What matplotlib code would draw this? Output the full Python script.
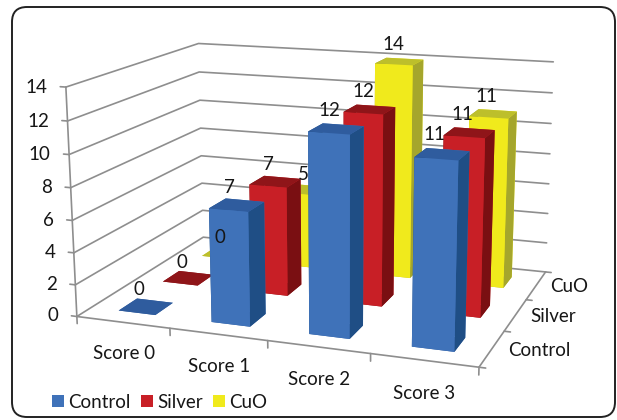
import numpy as np
import matplotlib
matplotlib.use('Agg')
import matplotlib.pyplot as plt
from matplotlib.patches import FancyBboxPatch, Patch
from mpl_toolkits.mplot3d import proj3d

plt.rcParams['font.family'] = ['Lato', 'DejaVu Sans']

categories = ['Score 0', 'Score 1', 'Score 2', 'Score 3']
series_names = ['Control', 'Silver', 'CuO']
control = [0, 7, 12, 11]
silver = [0, 7, 12, 11]
cuo = [0, 5, 14, 11]
z_ticks = [0, 2, 4, 6, 8, 10, 12, 14]

front = ['#3F72B9', '#C81F26', '#F0EA1C']
top = ['#2F5C9E', '#8F1519', '#BDBF2B']
side = ['#1F4E85', '#7A0F12', '#A5A62C']
GRID = '#8E8E8E'
TXT = '#161616'
FS = 13.5

W, H = 617, 420
fig = plt.figure(figsize=(W / 100, H / 100), dpi=100, facecolor='white')

# fitted camera (mplot3d perspective) and pixel scale
S, SX, SY = 2862.37, 321.66, -185.65
ax = fig.add_axes([0, 0, 1, 1], projection='3d')
vl = ax.viewLim
L = S * vl.width
ax.set_position([(SX + S * vl.x0) / W, (H + SY + S * vl.y0) / H, L / W, L / H])
ax.set_box_aspect((1.3654, 1, 0.7707))
ax.view_init(14.095, -69.893, 0.1972)
ax.set_proj_type('persp', focal_length=0.4959)
ax.set_autoscale_on(False)
ax.computed_zorder = False
ax.set_axis_off()
ax.patch.set_visible(False)

nx, ny, zmax = len(categories), len(series_names), z_ticks[-1]
ax.set_xlim(0, nx, view_margin=0)
ax.set_ylim(0, ny, view_margin=0)
ax.set_zlim(0, zmax, view_margin=0)
lkw = dict(color=GRID, lw=1.2, clip_on=False, solid_capstyle='round')


def label(x, y, z, s, **kw):
    """Place a text at a 3D data position through the axes' own projection."""
    u, v, _ = proj3d.proj_transform(x, y, z, ax.get_proj())
    ax.text2D(float(u), float(v), s, transform=ax.transData, fontsize=FS, color=TXT,
              va='center', clip_on=False, **kw)


# walls and floor
for z in z_ticks:
    ax.plot([0, 0, nx], [0, ny, ny], [z, z, z], zorder=1, **lkw)
ax.plot([0, 0], [0, 0], [0, zmax], zorder=1, **lkw)
ax.plot([0, nx, nx], [0, 0, ny], [0, 0, 0], zorder=1, **lkw)
# ticks and tick labels
for z in z_ticks:
    ax.plot([0, -0.06], [0, 0], [z, z], zorder=1, **lkw)
    label(-0.2, 0, z - 0.1, str(z), ha='right')
for i in range(nx + 1):
    ax.plot([i, i], [0, 0], [0, -0.45], zorder=1, **lkw)
for j in range(ny + 1):
    ax.plot([nx, nx + 0.06], [j, j], [0, 0], zorder=1, **lkw)
for i, c in enumerate(categories):
    label(i + 0.5, 0, -1.97, c, ha='center')
for j, s in enumerate(series_names):
    label(nx + 0.15, j + 0.5, 0, s, ha='left')

# bars, far row first
values = [control, silver, cuo]
bw, bd = 0.40, 0.40
zo = 10
for j in reversed(range(ny)):
    for i in range(nx):
        v = values[j][i]
        cols = [top[j], top[j], front[j], front[j], side[j], side[j]]
        ax.bar3d(i + 0.5 - bw / 2, j + 0.5 - bd / 2, 0, bw, bd, v, color=cols,
                 shade=False, linewidth=0, zorder=zo)
        zo += 1
for j in range(ny):
    for i in range(nx):
        v = values[j][i]
        label(i + 0.43, j + 0.5, v + 1.05, str(v), ha='center', zorder=100)

handles = [Patch(facecolor=c, edgecolor='none') for c in front]
fig.legend(handles, series_names, ncol=3, frameon=False, fontsize=FS,
           loc='lower left', bbox_to_anchor=(52 / W, 1 - 411 / H), borderaxespad=0, borderpad=0,
           handlelength=0.62, handleheight=0.62, handletextpad=0.25, columnspacing=0.55,
           labelcolor=TXT)

frame = FancyBboxPatch((12, 3), 603, 410, boxstyle='round,pad=0,rounding_size=15',
                       transform=None, fill=False, edgecolor='#222222', lw=1.4, clip_on=False)
fig.add_artist(frame)
fig.savefig('out.png', dpi=100)
